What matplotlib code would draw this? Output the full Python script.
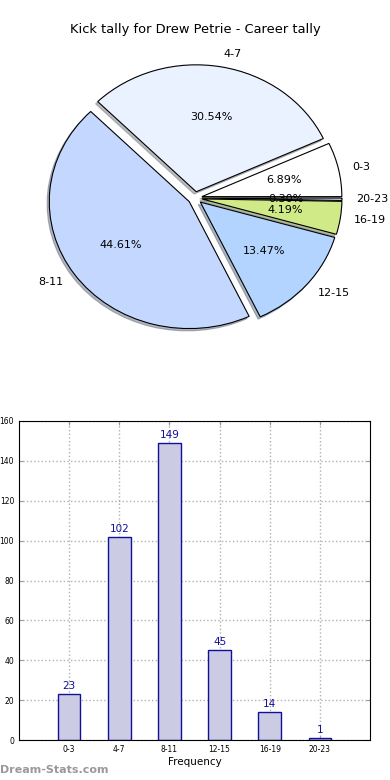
import matplotlib
matplotlib.use("Agg")
from matplotlib import pyplot as plt

# Data
categories = ['0-3', '4-7', '8-11', '12-15', '16-19', '20-23']
kicks = [23, 102, 149, 45, 14, 1]
pie_colors = ['#ffffff', '#eaf1ff', '#c4d8ff', '#b3d4ff', '#d0ea88', '#dfe8ff']

fig = plt.figure(figsize=(3.9, 7.8), dpi=100)

# Pie chart (top)
ax1 = fig.add_axes([13/390, 417/780, 364/390, 330/780])
ax1.pie(kicks, labels=categories, colors=pie_colors, explode=[0.05]*len(kicks),
        autopct='%.2f%%', shadow={'ox': -0.011, 'oy': -0.013, 'shade': 0.5},
        startangle=0,
        wedgeprops={'edgecolor': 'black', 'linewidth': 0.8},
        textprops={'fontsize': 8})
ax1.set_aspect('auto')
ax1.set_xlim(-1.3, 1.3)
ax1.set_ylim(-1.3, 1.3)
fig.text(0.5, 1 - 30/780, 'Kick tally for Drew Petrie - Career tally',
         ha='center', va='center', fontsize=9.4)

# Bar chart (bottom)
ax2 = fig.add_axes([19/390, 40/780, 351/390, 319/780])
x = range(len(categories))
ax2.bar(x, kicks, width=0.45, color='#cbcbe3', edgecolor='#10109a', linewidth=1, zorder=2)
for xi, v in zip(x, kicks):
    ax2.text(xi, v + 1.5, str(v), ha='center', va='bottom', fontsize=7.5, color='#10109a')
ax2.set_xlim(-1, 6)
ax2.set_ylim(0, 160)
ax2.set_yticks(range(0, 161, 20))
ax2.set_xticks(list(x))
ax2.set_xticklabels(categories)
ax2.tick_params(direction='in', top=True, right=True, labelsize=5.5, length=3, color='#999999')
ax2.grid(True, linestyle=':', color='#b0b0b0', linewidth=1, zorder=0)
ax2.set_xlabel('Frequency', fontsize=7.5, labelpad=2)

fig.text(0.0, 1 - 770/780, 'Dream-Stats.com', ha='left', va='center',
         fontsize=8, color='#999999', fontweight='bold')

fig.savefig('out.png', dpi=100)
